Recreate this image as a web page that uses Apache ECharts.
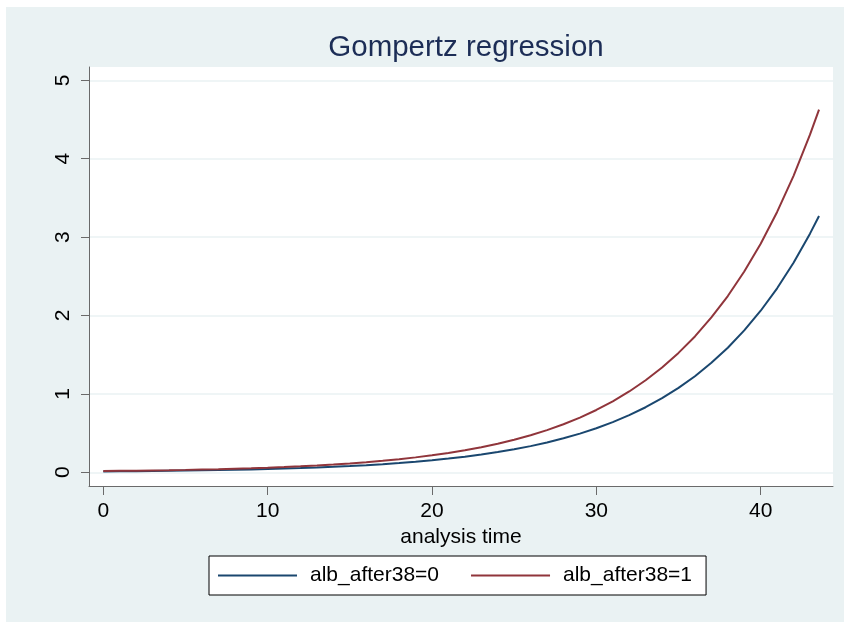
<!DOCTYPE html>
<html>
<head>
<meta charset="utf-8">
<script src="https://cdn.jsdelivr.net/npm/echarts@6/dist/echarts.min.js"></script>
<style>
html,body{margin:0;padding:0;background:#EAF2F3;overflow:hidden;}
#chart{width:844px;height:622px;}
</style>
</head>
<body>
<div id="chart"></div>
<script>
// analysis time values
const times = [0,1,2,3,4,5,6,7,8,9,10,11,12,13,14,15,16,17,18,19,20,21,22,23,24,25,26,27,28,29,30,31,32,33,34,35,36,37,38,39,40,41,42,43,43.55];
// hazard for alb_after38=0
const hazard0 = [0.0114,0.0129,0.0147,0.0168,0.0191,0.0217,0.0247,0.0282,0.0321,0.0365,0.0417,0.0475,0.0541,0.0616,0.0701,0.0799,0.0910,0.1036,0.1180,0.1344,0.1531,0.1743,0.1985,0.2261,0.2575,0.2932,0.3339,0.3803,0.4331,0.4932,0.5617,0.6397,0.7285,0.8297,0.9449,1.076,1.225,1.396,1.589,1.810,2.061,2.347,2.673,3.044,3.27];
// hazard for alb_after38=1
const hazard1 = [0.0161,0.0183,0.0208,0.0238,0.0270,0.0307,0.0350,0.0399,0.0454,0.0516,0.0590,0.0672,0.0766,0.0872,0.0992,0.1131,0.1288,0.1466,0.1670,0.1902,0.2166,0.2466,0.2809,0.3199,0.3644,0.4149,0.4725,0.5381,0.6128,0.6979,0.7948,0.9052,1.031,1.174,1.337,1.523,1.733,1.975,2.248,2.561,2.916,3.321,3.782,4.307,4.627];
const seriesNames = ['alb_after38=0','alb_after38=1'];
const xTicks = [0,10,20,30,40];
const yTicks = [0,1,2,3,4,5];
const titleText = 'Gompertz regression';
const xAxisTitle = 'analysis time';

const FONT = '"Liberation Sans", Arial, sans-serif';
const zip = (xs, ys) => xs.map((x, i) => [x, ys[i]]);

const chart = echarts.init(document.getElementById('chart'), null, {renderer: 'canvas'});
chart.setOption({
  animation: false,
  backgroundColor: '#EAF2F3',
  graphic: [
    {type: 'rect', left: 0, top: 0, z: -10, silent: true, shape: {width: 844, height: 7}, style: {fill: '#ffffff'}},
    {type: 'rect', left: 0, top: 0, z: -10, silent: true, shape: {width: 6, height: 622}, style: {fill: '#ffffff'}}
  ],
  title: {
    text: titleText,
    left: 461, top: 28, textAlign: 'center',
    textStyle: {fontFamily: FONT, fontSize: 29.5, fontWeight: 'normal', color: '#1C2D56'}
  },
  grid: {
    left: 89, top: 67, right: 11, bottom: 136,
    show: true, backgroundColor: '#ffffff', borderWidth: 0,
    containLabel: false
  },
  legend: {
    left: 209, top: 556,
    padding: [9, 14, 9, 9],
    backgroundColor: '#ffffff', borderColor: '#000000', borderWidth: 1, borderRadius: 0,
    itemWidth: 79, itemHeight: 14, itemGap: 32,
    textStyle: {fontFamily: FONT, fontSize: 21, color: '#000000', padding: [0, 0, 0, 8]},
    data: seriesNames.map(n => ({name: n, icon: 'path://M0,0H79V2H0Z'}))
  },
  xAxis: {
    type: 'value', min: -0.87, max: 44.40,
    name: xAxisTitle, nameLocation: 'middle', nameGap: 33,
    nameTextStyle: {fontFamily: FONT, fontSize: 21, color: '#000000'},
    axisLine: {show: true, onZero: false, lineStyle: {color: '#6a6a6a', width: 1}},
    axisTick: {show: true, length: 9, customValues: xTicks, lineStyle: {color: '#6a6a6a', width: 1}},
    axisLabel: {customValues: xTicks, margin: 15, fontFamily: FONT, fontSize: 21, color: '#000000'},
    splitLine: {show: false}
  },
  yAxis: {
    type: 'value', min: -0.175, max: 5.17,
    axisLine: {show: true, onZero: false, lineStyle: {color: '#6a6a6a', width: 1}},
    axisTick: {show: true, length: 8, customValues: yTicks, lineStyle: {color: '#6a6a6a', width: 1}},
    axisLabel: {customValues: yTicks, rotate: 90, margin: 15, fontFamily: FONT, fontSize: 21, color: '#000000'},
    splitLine: {show: true, lineStyle: {color: '#EAF2F3', width: 1.5}}
  },
  series: [
    {name: seriesNames[0], type: 'line', data: zip(times, hazard0), showSymbol: false, symbol: 'none', smooth: false,
     lineStyle: {color: '#1A476F', width: 2}, itemStyle: {color: '#1A476F'}},
    {name: seriesNames[1], type: 'line', data: zip(times, hazard1), showSymbol: false, symbol: 'none', smooth: false,
     lineStyle: {color: '#90353B', width: 2}, itemStyle: {color: '#90353B'}}
  ]
});
</script>
</body>
</html>
